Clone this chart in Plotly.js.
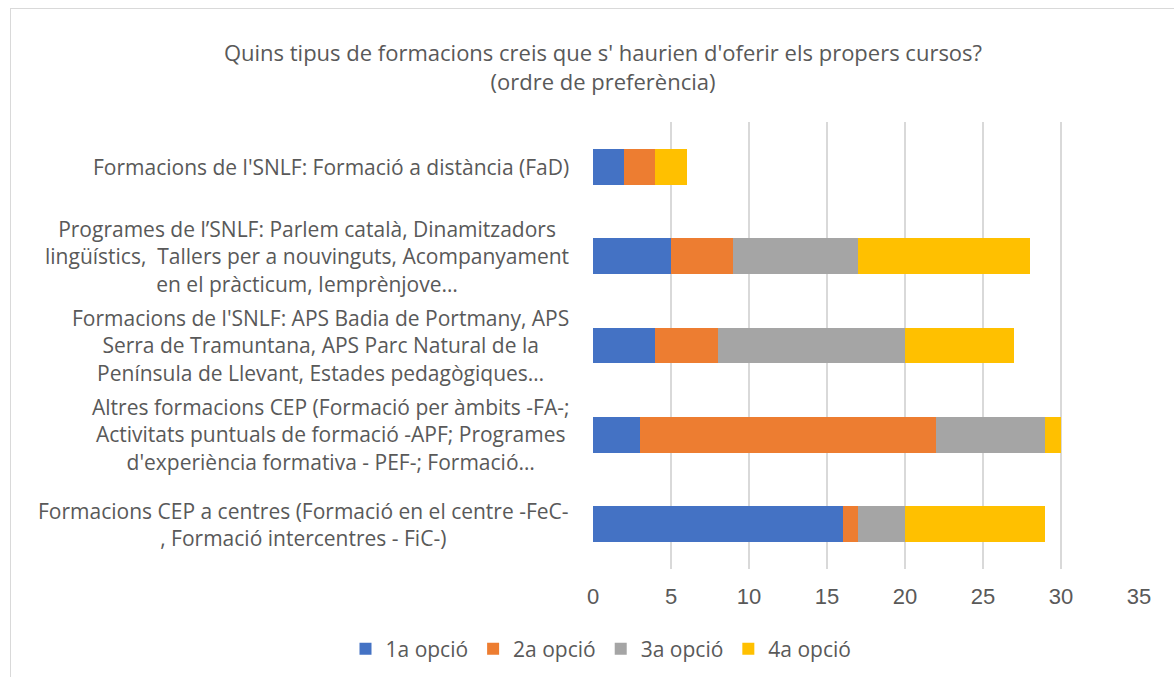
<!DOCTYPE html>
<html>
<head>
<meta charset="utf-8">
<script src="https://cdn.plot.ly/plotly-3.0.1.min.js"></script>
<style>
  html, body { margin: 0; padding: 0; background: #fff; }
  #wrap { position: relative; width: 1174px; height: 677px; overflow: hidden; }
  #frame { position: absolute; left: 10px; top: 8px; width: 1200px; height: 700px; border: 1px solid #d9d9d9; pointer-events: none; }
  #chart { position: absolute; left: 0; top: 0; width: 1174px; height: 677px; }
</style>
</head>
<body>
<div id="wrap">
  <div id="chart"></div>
  <div id="frame"></div>
</div>
<script>
const categories = [
  "Formacions de l'SNLF: Formació a distància (FaD)",
  "Programes de l’SNLF: Parlem català, Dinamitzadors<br>lingüístics,  Tallers per a nouvinguts, Acompanyament<br>en el pràcticum, Iemprènjove…",
  "Formacions de l'SNLF: APS Badia de Portmany, APS<br>Serra de Tramuntana, APS Parc Natural de la<br>Península de Llevant, Estades pedagògiques…",
  "Altres formacions CEP (Formació per àmbits -FA-;<br>Activitats puntuals de formació -APF; Programes<br>d'experiència formativa - PEF-; Formació…",
  "Formacions CEP a centres (Formació en el centre -FeC-<br>, Formació intercentres - FiC-)"
];
const seriesNames = ["1a opció", "2a opció", "3a opció", "4a opció"];
const opcio1 = [2, 5, 4, 3, 16];
const opcio2 = [2, 4, 4, 19, 1];
const opcio3 = [0, 8, 12, 7, 3];
const opcio4 = [2, 11, 7, 1, 9];
const xTicks = [0, 5, 10, 15, 20, 25, 30, 35];
const titleText = "Quins tipus de formacions creis que s' haurien d'oferir els propers cursos?<br>(ordre de preferència)";

const colors = ["#4472C4", "#ED7D31", "#A5A5A5", "#FFC000"];
const values = [opcio1, opcio2, opcio3, opcio4];
const catKeys = categories.map((c, i) => "c" + i);
const txtFont = "Open Sans, Noto Sans, sans-serif";

const traces = values.map((v, i) => ({
  type: "bar",
  orientation: "h",
  name: seriesNames[i],
  x: v,
  y: catKeys,
  marker: { color: colors[i], line: { width: 0 } },
  hoverinfo: "x+name"
}));

const annotations = categories.map((c, i) => ({
  xref: "paper", yref: "y",
  x: -0.04, y: catKeys[i],
  xanchor: "right", yanchor: "middle",
  align: "center",
  text: c, showarrow: false,
  font: { family: txtFont, size: 21, color: "#595959" }
}));

const layout = {
  width: 1174, height: 677,
  margin: { l: 593, r: 35, t: 122, b: 108 },
  paper_bgcolor: "rgba(0,0,0,0)",
  plot_bgcolor: "#fff",
  barmode: "stack",
  bargap: 0.6,
  title: {
    text: titleText,
    x: 603 / 1174, xanchor: "center", xref: "container",
    y: 1 - 61 / 677, yanchor: "middle", yref: "container",
    font: { family: txtFont, size: 22, color: "#595959" }
  },
  xaxis: {
    range: [0, 35],
    tickvals: xTicks,
    ticktext: xTicks.map(String),
    showgrid: true, gridcolor: "#d9d9d9", gridwidth: 1.5,
    zeroline: false, showline: false,
    ticks: "", ticklen: 0,
    ticklabelstandoff: 12,
    tickfont: { family: "Liberation Sans, Arial, sans-serif", size: 22, color: "#595959" },
    fixedrange: true
  },
  yaxis: {
    type: "category",
    autorange: "reversed",
    showticklabels: false,
    showgrid: false, zeroline: false, showline: false, ticks: "",
    fixedrange: true
  },
  showlegend: true,
  legend: {
    orientation: "h",
    x: 601 / 1174, xanchor: "center", xref: "container",
    y: 1 - 649 / 677, yanchor: "middle", yref: "container",
    traceorder: "normal",
    font: { family: txtFont, size: 21, color: "#595959" },
    itemwidth: 30
  },
  annotations: annotations,
  hovermode: false
};

Plotly.newPlot("chart", traces, layout, { displayModeBar: false, staticPlot: true });
</script>
</body>
</html>
